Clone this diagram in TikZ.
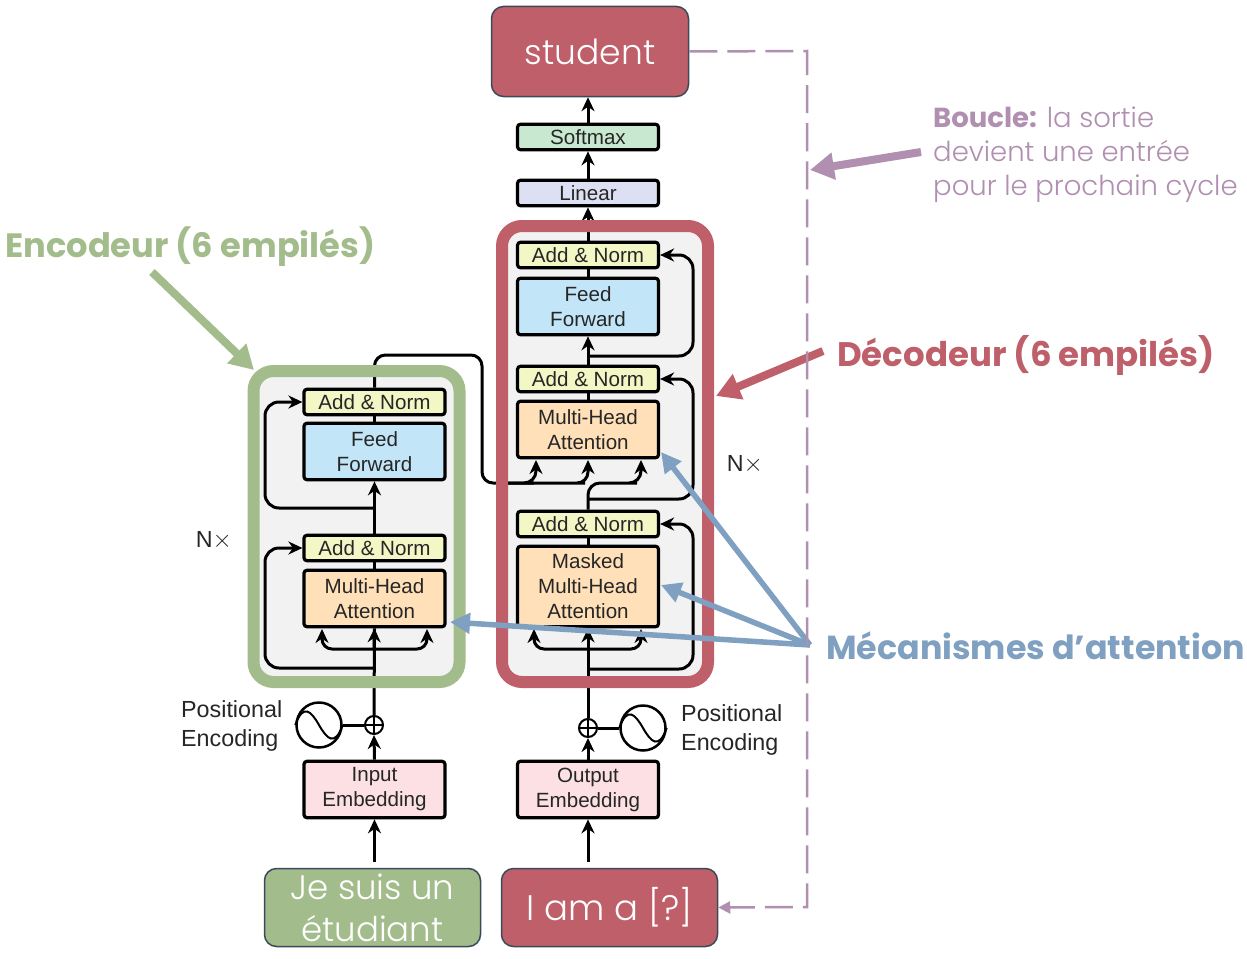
\documentclass[tikz,border=0pt]{standalone}
\usepackage{fontspec}
\usetikzlibrary{arrows.meta}
\setmainfont{Liberation Sans}
\newfontfamily\gothic{Poppins}
\newfontfamily\gothiclight{Poppins Light}
\definecolor{encgreen}{HTML}{A3BC8B}
\definecolor{decred}{HTML}{BE5F6A}
\definecolor{attblue}{HTML}{7FA0C0}
\definecolor{loopmauve}{HTML}{B08FB0}
\definecolor{boxborder}{HTML}{3A4A5A}
\definecolor{addfill}{HTML}{F3F7C6}
\definecolor{panelfill}{HTML}{F2F2F2}
\definecolor{feedfill}{HTML}{C2E6F8}
\definecolor{attfill}{HTML}{FFE0B8}
\definecolor{embfill}{HTML}{FCE0E3}
\definecolor{softfill}{HTML}{C8E8D0}
\definecolor{linfill}{HTML}{DCE0F2}
\tikzset{
	layer/.style={draw=black, line width=3.2pt, rounded corners=3pt, inner sep=0pt, minimum width=141pt, align=center, text=black!85, font=\fontsize{20.6}{25}\selectfont},
	addnorm/.style={layer, fill=addfill, minimum height=25.5pt},
	twoline/.style={layer, minimum height=56.5pt},
	word/.style={draw=boxborder, line width=1.5pt, rounded corners=12pt, inner sep=0pt, align=center, text=white, font=\gothiclight\fontsize{34}{42}\selectfont},
	panel/.style={fill=panelfill, rounded corners=14pt, minimum width=206pt, inner sep=0pt},
	frame/.style={draw=#1, line width=12pt, rounded corners=20pt, minimum width=206pt, inner sep=0pt},
	wire/.style={draw=black, line width=3pt},
	arrow/.style={wire, -{Stealth[length=14pt,width=13pt]}},
	note/.style={align=left, inner sep=0pt, text=black!85, font=\fontsize{23.3}{29}\selectfont},
	callout/.style={draw=#1, line width=8pt, -{Triangle[length=24pt,width=26pt]}},
	pointer/.style={draw=attblue, line width=5.5pt, -{Triangle[length=20pt,width=20pt]}},
	sinewave/.style={line width=2pt},
}
\begin{document}
\begin{tikzpicture}[x=1pt, y=-1pt]
	\useasboundingbox (0, 0) rectangle (1247, 958);

	\node[panel, minimum height=311pt] (encpanel) at (356.5, 526.5) {};
	\node[panel, minimum height=456pt] (decpanel) at (605, 454) {};

	% encoder column
	\node[addnorm] (encnorm2) at (374.5, 402) {Add \& Norm};
	\node[twoline, fill=feedfill] (encfeed) at (374.5, 451.5) {Feed\\Forward};
	\node[addnorm] (encnorm1) at (374.5, 548) {Add \& Norm};
	\node[twoline, fill=attfill] (encatt) at (374.5, 598.5) {Multi-Head\\Attention};
	\node[twoline, fill=embfill] (encemb) at (374.5, 789.5) {Input\\Embedding};
	\node[draw=black, line width=2pt, circle, fill=white, minimum size=18pt, inner sep=0pt] (encplus) at (374, 725) {};
	\node[draw=black, line width=2.5pt, circle, minimum size=45pt, inner sep=0pt] (encsine) at (319, 725) {};

	% decoder column
	\node[layer, fill=softfill, minimum height=25.5pt] (softmax) at (588, 137) {Softmax};
	\node[layer, fill=linfill, minimum height=25.5pt] (linear) at (588, 193) {Linear};
	\node[addnorm] (decnorm3) at (588, 255) {Add \& Norm};
	\node[twoline, fill=feedfill] (decfeed) at (588, 306.5) {Feed\\Forward};
	\node[addnorm] (decnorm2) at (588, 379) {Add \& Norm};
	\node[twoline, fill=attfill] (decatt) at (588, 429.5) {Multi-Head\\Attention};
	\node[addnorm] (decnorm1) at (588, 524) {Add \& Norm};
	\node[layer, fill=attfill, minimum height=80.5pt] (decmask) at (588, 586.5) {Masked\\Multi-Head\\Attention};
	\node[twoline, fill=embfill] (decemb) at (588, 789.5) {Output\\Embedding};
	\node[draw=black, line width=2pt, circle, fill=white, minimum size=18pt, inner sep=0pt] (decplus) at (588, 728) {};
	\node[draw=black, line width=2.5pt, circle, minimum size=45pt, inner sep=0pt] (decsine) at (643, 728) {};

	\node[word, fill=decred, minimum width=197pt, minimum height=90pt, font=\gothiclight\fontsize{34.5}{42}\selectfont] (student) at (590, 51.5) {student};
	\node[word, fill=encgreen, minimum width=216pt, minimum height=78pt] (jesuis) at (372.5, 907.5) {Je suis un\\étudiant};
	\node[word, fill=decred, minimum width=216pt, minimum height=78pt, font=\gothiclight\fontsize{35.5}{42}\selectfont] (iama) at (609.5, 907.5) {I am a [?]};

	\coordinate (encfork) at (374, 668);
	\coordinate (encleft) at (265, 668);
	\coordinate (encskip) at (374, 508);
	\coordinate (encskipleft) at (265, 508);
	\coordinate (encsplit) at (374, 649);
	\coordinate (crosstop) at (482, 355);
	\coordinate (crossrun) at (505, 483);
	\coordinate (decfork) at (588, 669);
	\coordinate (decforkright) at (693, 669);
	\coordinate (decsplit) at (588, 649);
	\coordinate (decmid) at (588, 499);
	\coordinate (decmidright) at (693, 499);
	\coordinate (decskip) at (588, 356);
	\coordinate (decskipright) at (693, 356);
	\coordinate (jesuistop) at (374.5, 862);
	\coordinate (iamatop) at (588, 862);

	% encoder wires
	\draw[wire] (encplus.north) -- (encatt.south);
	\draw[arrow] (encsplit) -- (encatt.south);
	\draw[arrow, rounded corners=10pt] (encsplit) -| (322, 629);
	\draw[arrow, rounded corners=10pt] (encsplit) -| (427, 629);
	\draw[arrow, rounded corners=14pt] (encfork) -- (encleft) |- (encnorm1.west);
	\draw[wire] (encatt.north) -- (encnorm1.south);
	\draw[arrow] (encnorm1.north) -- (encfeed.south);
	\draw[arrow, rounded corners=14pt] (encskip) -- (encskipleft) |- (encnorm2.west);
	\draw[wire] (encfeed.north) -- (encnorm2.south);
	\draw[arrow] (encemb.north) -- (encplus.south);
	\draw[arrow] (jesuistop) -- (encemb.south);
	\draw[wire] (encsine.east) -- (encplus.west);
	\draw[line width=1.5pt] (encplus.north) -- (encplus.south) (encplus.west) -- (encplus.east);
	\draw[sinewave] (encsine.west) .. controls +(8, -22) and +(-8, -14) .. (encsine.center) .. controls +(8, 14) and +(-8, 22) .. (encsine.east);

	% encoder to decoder
	\draw[arrow, rounded corners=11pt] (encnorm2.north) |- (crosstop) |- (574, 483) -| (588, 460);
	\draw[arrow, rounded corners=12pt] (crossrun) -- (522, 483) -| (536, 460);

	% decoder wires
	\draw[wire] (decplus.north) -- (decmask.south);
	\draw[arrow] (decsplit) -- (decmask.south);
	\draw[arrow, rounded corners=10pt] (decsplit) -| (534, 629);
	\draw[arrow, rounded corners=10pt] (decsplit) -| (641, 629);
	\draw[arrow, rounded corners=14pt] (decfork) -- (decforkright) |- (decnorm1.east);
	\draw[wire] (decmask.north) -- (decnorm1.south);
	\draw[arrow, rounded corners=12pt] (decnorm1.north) |- (625, 483) -| (641, 460);
	\draw[arrow, rounded corners=14pt] (decmid) -- (decmidright) |- (decnorm2.east);
	\draw[wire] (decatt.north) -- (decnorm2.south);
	\draw[arrow] (decnorm2.north) -- (decfeed.south);
	\draw[arrow, rounded corners=14pt] (decskip) -- (decskipright) |- (decnorm3.east);
	\draw[wire] (decfeed.north) -- (decnorm3.south);
	\draw[arrow] (decnorm3.north) -- (linear.south);
	\draw[arrow] (linear.north) -- (softmax.south);
	\draw[arrow] (softmax.north) -- (student.south -| softmax.north);
	\draw[arrow] (decemb.north) -- (decplus.south);
	\draw[arrow] (iamatop) -- (decemb.south);
	\draw[wire] (decsine.west) -- (decplus.east);
	\draw[line width=1.5pt] (decplus.north) -- (decplus.south) (decplus.west) -- (decplus.east);
	\draw[sinewave] (decsine.west) .. controls +(8, -22) and +(-8, -14) .. (decsine.center) .. controls +(8, 14) and +(-8, 22) .. (decsine.east);

	\node[frame=encgreen, minimum height=311pt] (encframe) at (356.5, 526.5) {};
	\node[frame=decred, minimum height=456pt] (decframe) at (605, 454) {};

	\node[note] (encnx) at (214, 541) {N$\times$};
	\node[note] (decnx) at (745, 465) {N$\times$};
	\node[note, anchor=west] (encpos) at (181, 726) {Positional\\Encoding};
	\node[note, anchor=west] (decpos) at (681, 730) {Positional\\Encoding};

	% labels and callouts
	\node[anchor=west, inner sep=0pt, text=encgreen, font=\gothic\bfseries\fontsize{33.7}{40}\selectfont] (enclabel) at (5, 247) {Encodeur (6 empilés)};
	\node[anchor=west, inner sep=0pt, text=decred, font=\gothic\bfseries\fontsize{34}{40}\selectfont] (declabel) at (837, 355) {Décodeur (6 empilés)};
	\node[anchor=west, inner sep=0pt, text=attblue, font=\gothic\bfseries\fontsize{33.3}{40}\selectfont] (attlabel) at (826, 646) {Mécanismes d’attention};
	\node[anchor=west, inner sep=0pt, align=left, text=loopmauve, font=\gothiclight\fontsize{27.5}{34}\selectfont] (looplabel) at (933, 155) {{\gothic\bfseries Boucle:} la sortie\\devient une entrée\\pour le prochain cycle};

	\coordinate (enctail) at (152, 272);
	\coordinate (enchead) at (254, 370);
	\coordinate (dectail) at (823, 351);
	\coordinate (dechead) at (716, 396);
	\coordinate (looptail) at (921, 152);
	\coordinate (loophead) at (810, 170);
	\coordinate (atttail) at (810, 645);
	\coordinate (loopcorner) at (807, 51);
	\coordinate (loopbottom) at (807, 907);

	\draw[callout=encgreen] (enctail) -- (enchead);
	\draw[callout=decred] (dectail) -- (dechead);
	\draw[callout=loopmauve] (looptail) -- (loophead);
	\draw[pointer] (atttail) -- (661, 452);
	\draw[pointer] (atttail) -- (661, 585);
	\draw[pointer] (atttail) -- (450, 622);
	\draw[draw=loopmauve, line width=2.5pt, dash pattern=on 28pt off 10pt, -{Triangle[length=12pt,width=12pt]}] (student.east) -- (loopcorner) -- (loopbottom) -- (iama.east);
\end{tikzpicture}
\end{document}
